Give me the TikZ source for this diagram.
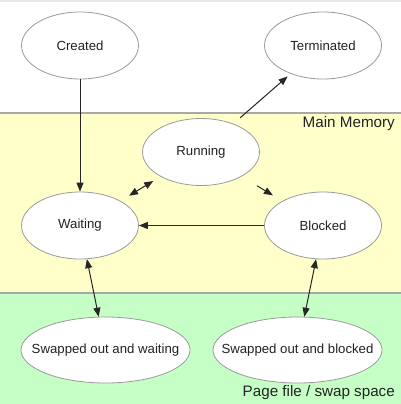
\documentclass[tikz,border=0pt]{standalone}
\usepackage{fontspec}
\setmainfont{Liberation Sans}
\usetikzlibrary{shapes.geometric,arrows.meta}
\definecolor{memyellow}{HTML}{FFFFCA}
\definecolor{swapgreen}{HTML}{C6FFC6}
\definecolor{bandline}{HTML}{A8A8A8}
\definecolor{ellline}{HTML}{9A9A9A}
\definecolor{txt}{HTML}{222222}
\tikzset{
  state/.style={ellipse, draw=ellline, line width=0.8pt, fill=white, inner sep=0pt,
    minimum width=117pt, minimum height=67pt, font=\fontsize{13.2}{15}\selectfont, text=txt},
  widestate/.style={state, minimum width=169pt, minimum height=66pt},
  arr/.style={draw=black!85, line width=1pt, -{Triangle[length=9pt,width=7pt]}},
  darr/.style={draw=black!85, line width=1pt, {Triangle[length=9pt,width=7pt]}-{Triangle[length=9pt,width=7pt]}},
  zonelabel/.style={font=\fontsize{15.2}{17}\selectfont, text=txt, anchor=east, inner sep=0pt}
}
\begin{document}
\begin{tikzpicture}[x=1pt,y=-1pt]
\useasboundingbox (0,0) rectangle (401,404);
% background zones
\fill[white] (0,0) rectangle (401,404);
\fill[black!9] (0,0) rectangle (401,2);
\fill[memyellow] (0,113) rectangle (401,293);
\fill[swapgreen] (0,293) rectangle (401,404);
\draw[bandline, line width=1.5pt] (0,113) -- (401,113);
\draw[bandline, line width=1.5pt] (0,293) -- (401,293);
\node[zonelabel] (mm) at (395,124) {Main Memory};
\node[zonelabel] (pf) at (395,393) {Page file / swap space};
% states
\node[state] (created) at (80,45.5) {\makebox[0pt]{Created}};
\node[state] (term) at (323,45.5) {\makebox[0pt]{Terminated}};
\node[state] (run) at (201,152) {\makebox[0pt]{Running}};
\node[state] (wait) at (80,225.5) {\makebox[0pt]{Waiting}};
\node[state] (block) at (323,225.5) {\makebox[0pt]{Blocked}};
\node[widestate] (sww) at (105.5,350) {\makebox[0pt]{Swapped out and waiting}};
\node[widestate] (swb) at (297.5,350) {\makebox[0pt]{Swapped out and blocked}};
% transitions
\draw[arr] (created) -- (wait);
\draw[arr, shorten <=9pt, shorten >=4pt] (run) -- (term);
\draw[darr, shorten <=8.5pt, shorten >=10pt] (run) -- (wait);
\draw[arr, shorten <=18pt, shorten >=11pt] (run) -- (block);
\draw[arr] (block) -- (wait);
\draw[darr] (wait) -- (sww);
\draw[darr] (block) -- (swb);
\end{tikzpicture}
\end{document}
